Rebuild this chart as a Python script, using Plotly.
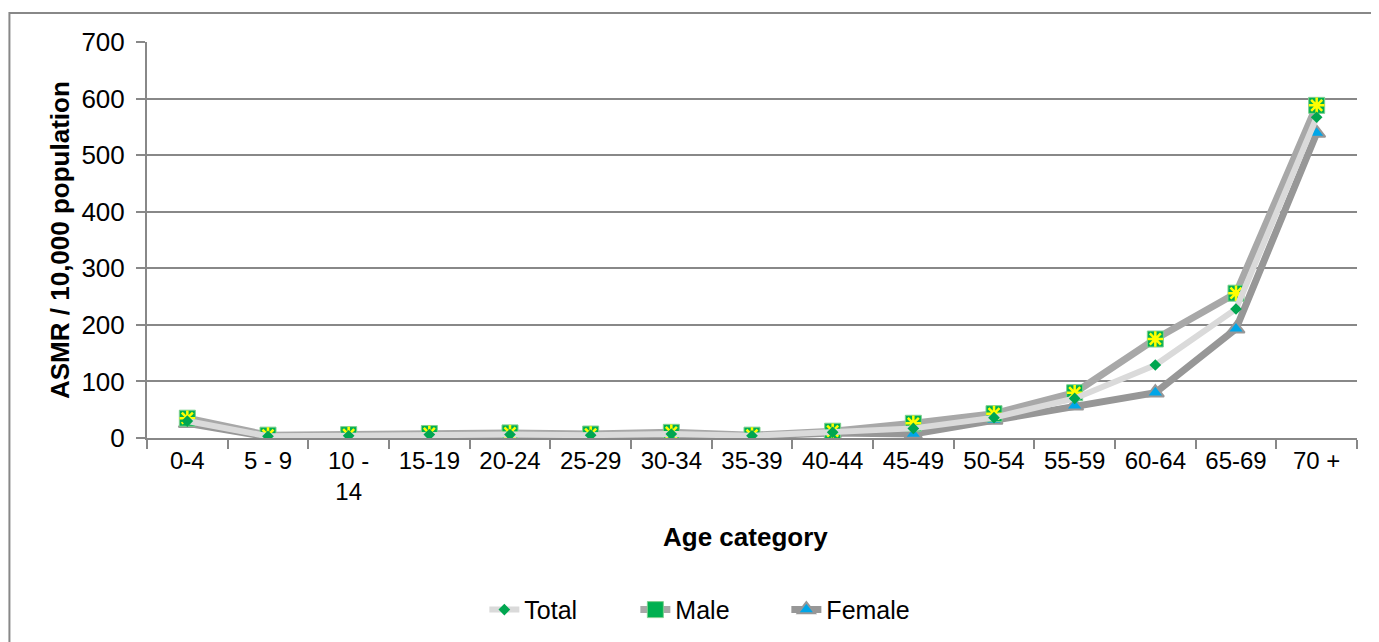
import plotly.graph_objects as go

categories = ["0-4", "5 - 9", "10 -<br>14", "15-19", "20-24", "25-29", "30-34", "35-39",
              "40-44", "45-49", "50-54", "55-59", "60-64", "65-69", "70 +"]
total = [30, 3, 4, 6, 6, 5, 7, 4, 10, 17, 36, 70, 129, 228, 567]
male = [35, 5, 6, 8, 9, 7, 10, 5, 12, 26, 43, 80, 175, 256, 588]
female = [26, 2, 2, 3, 3, 3, 4, 3, 9, 7, 32, 57, 80, 193, 539]
y_ticks = [0, 100, 200, 300, 400, 500, 600, 700]

FONT = "Liberation Sans, Arial, sans-serif"
fig = go.Figure()

fig.add_trace(go.Scatter(
    x=categories, y=female, name="Female", mode="lines+markers",
    line=dict(color="#979797", width=7),
    marker=dict(symbol="triangle-up", size=15, color="#00A6E8",
                line=dict(color="#979797", width=2)),
))
fig.add_trace(go.Scatter(
    x=categories, y=male, name="Male", mode="lines+markers",
    line=dict(color="#A8A8A8", width=7),
    marker=dict(symbol="square", size=16, color="#00B050",
                line=dict(color="#7FD08F", width=1)),
    legendgroup="male",
))
fig.add_trace(go.Scatter(
    x=categories, y=male, name="Male", mode="markers", showlegend=False,
    marker=dict(symbol="asterisk-open", size=13, color="#FFFF00",
                line=dict(color="#FFFF00", width=2.5)),
    legendgroup="male", hoverinfo="skip",
))
fig.add_trace(go.Scatter(
    x=categories, y=total, name="Total", mode="lines+markers",
    line=dict(color="#DADADA", width=6),
    marker=dict(symbol="diamond", size=9, color="#00A650"),
))

fig.update_layout(
    width=1379, height=642,
    paper_bgcolor="white", plot_bgcolor="white",
    margin=dict(l=139, r=30, t=34, b=212),
    font=dict(family=FONT, size=24, color="black"),
    showlegend=True,
    legend=dict(orientation="h", x=0.466, y=-0.434, xanchor="center", yanchor="middle",
                traceorder="reversed", font=dict(size=25), entrywidth=106, entrywidthmode="pixels"),
    xaxis=dict(type="category", showgrid=False, showline=True, linecolor="#888888", linewidth=2,
               ticks="outside", tickson="boundaries", ticklen=9, tickcolor="#888888", tickwidth=2,
               range=[-0.5, 14.5], tickfont=dict(size=24)),
    yaxis=dict(range=[0, 700], tickvals=y_ticks, showgrid=True, gridcolor="#888888", gridwidth=2,
               showline=True, linecolor="#888888", linewidth=2, ticks="outside", ticklen=9,
               tickcolor="#888888", tickwidth=2, zeroline=False, tickfont=dict(size=26),
               ticklabelstandoff=6),
    shapes=[dict(type="rect", xref="paper", yref="paper", x0=-0.1137, x1=1.05, y0=-0.7, y1=1.0732,
                 line=dict(color="#888888", width=2), fillcolor="rgba(0,0,0,0)", layer="below")],
    annotations=[
        dict(text="<b>Age category</b>", xref="paper", yref="paper", x=0.495, y=-0.25,
             xanchor="center", yanchor="middle", showarrow=False, font=dict(size=26)),
        dict(text="<b>ASMR / 10,000 population</b>", xref="paper", yref="paper", x=-0.0719, y=0.5,
             xanchor="center", yanchor="middle", showarrow=False, textangle=-90, font=dict(size=26)),
    ],
)

fig.write_html("out.html")
